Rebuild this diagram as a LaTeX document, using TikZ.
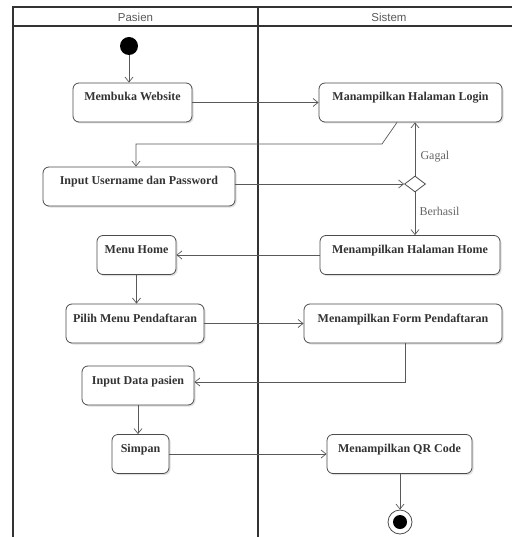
\documentclass[tikz,border=0pt]{standalone}
\usepackage{fontspec}
\setmainfont{Liberation Serif}
\newfontfamily\lanefont{Liberation Sans}
\usetikzlibrary{arrows.meta,shapes.geometric,shadows}
\begin{document}
\begin{tikzpicture}[x=1pt,y=-1pt,
  lane/.style={line width=1.5pt, draw=black!80},
  lanehead/.style={font=\lanefont\fontsize{11.5}{13}\selectfont, text=black!65},
  act/.style={draw=black!70, line width=0.8pt, rounded corners=6pt, fill=white,
    drop shadow={opacity=0.25, shadow xshift=1.5pt, shadow yshift=-1.5pt},
    font=\fontsize{12}{14}\selectfont\bfseries, text=black!80,
    inner xsep=0pt, inner ysep=0pt, text height=18pt, text depth=21pt},
  flow/.style={draw=black!65, line width=0.7pt, -{Straight Barb[length=5pt,width=8pt]}},
  guard/.style={font=\fontsize{12}{14}\selectfont, text=black!60, anchor=west}
]
\useasboundingbox (0,0) rectangle (512,537);
\fill[white] (0,0) rectangle (512,537);
% swimlanes
\draw[lane] (13,537) -- (13,7) -- (512,7);
\draw[lane] (13,26) -- (512,26);
\draw[lane] (258,7) -- (258,537);
\node[lanehead] (hp) at (135.5,17) {Pasien};
\node[lanehead] (hs) at (389,17) {Sistem};
% start / end
\node[circle, fill=black, minimum size=18pt, inner sep=0pt] (start) at (129,46) {};
\node[circle, draw=black!70, line width=0.8pt, fill=white, minimum size=24pt, inner sep=0pt] (end) at (400,522) {};
\node[circle, fill=black, minimum size=14pt, inner sep=0pt] (endc) at (end) {};
% activities
\node[act, minimum width=119pt] (web) at (132.5,102.5) {Membuka Website};
\node[act, minimum width=183pt] (login) at (410.5,102.5) {Manampilkan Halaman Login};
\node[act, minimum width=192pt] (user) at (139,186.5) {Input Username dan Password};
\node[diamond, draw=black!70, line width=0.8pt, fill=white, minimum width=21pt, minimum height=16pt, inner sep=0pt] (dia) at (415,184) {};
\node[act, minimum width=79pt] (home) at (136.5,255) {Menu Home};
\node[act, minimum width=180pt] (shome) at (410,255) {Menampilkan Halaman Home};
\node[act, minimum width=138pt] (pilih) at (135,323.5) {Pilih Menu Pendaftaran};
\node[act, minimum width=198pt] (form) at (403,323.5) {Menampilkan Form Pendaftaran};
\node[act, minimum width=112pt] (data) at (138,385.5) {Input Data pasien};
\node[act, minimum width=57pt] (simpan) at (140.5,454) {Simpan};
\node[act, minimum width=145pt] (qr) at (399.5,454) {Menampilkan QR Code};
% bend points
\coordinate (lb1) at (397,122);
\coordinate (lb2) at (382,144);
\coordinate (lb3) at (136,144);
\coordinate (fb) at (405,382);
% connectors
\draw[flow] (start) -- (start |- web.north);
\draw[flow] (web.east) -- (login.west);
\draw[flow] (lb1 |- login.south) -- (lb2) -- (lb3) -- (lb3 |- user.north);
\draw[flow] (user.east |- dia.west) -- (dia.west);
\draw[flow] (dia.north) -- (dia.north |- login.south);
\draw[flow] (dia.south) -- (dia.south |- shome.north);
\draw[flow] (shome.west) -- (home.east);
\draw[flow] (home.south) -- (home.south |- pilih.north);
\draw[flow] (pilih.east) -- (form.west);
\draw[flow] (fb |- form.south) -- (fb) -- (data.east |- fb);
\draw[flow] (data.south) -- (data.south |- simpan.north);
\draw[flow] (simpan.east) -- (qr.west);
\draw[flow] (qr.south -| end) -- (end.north);
% guards
\node[guard] (gagal) at (417,157) {Gagal};
\node[guard] (berhasil) at (416,211) {Berhasil};
\end{tikzpicture}
\end{document}
